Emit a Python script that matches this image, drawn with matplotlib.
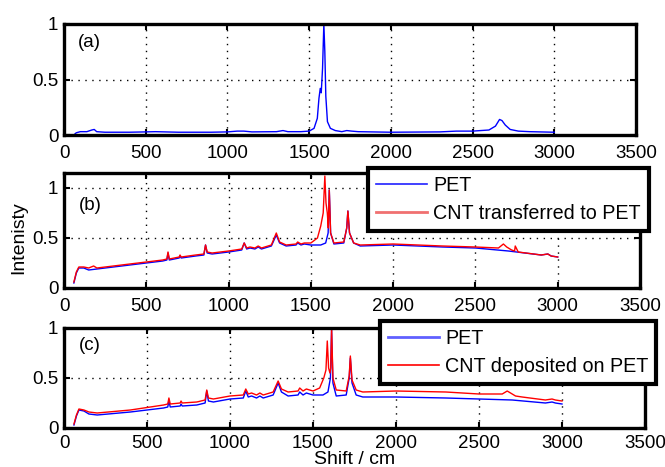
import matplotlib
matplotlib.use("Agg")
import matplotlib.pyplot as plt
from matplotlib.lines import Line2D

plt.rcParams['font.family'] = ['Liberation Sans', 'DejaVu Sans']

# ---- data ----
xa = [60, 75, 100, 140, 170, 185, 200, 250, 400, 500, 560, 700, 900, 1000, 1060, 1100, 1150,
      1300, 1340, 1370, 1450, 1500, 1530, 1550, 1560, 1568, 1574, 1582, 1590, 1596, 1602, 1612,
      1630, 1660, 1700, 1730, 1760, 1800, 2000, 2300, 2400, 2500, 2600, 2640, 2665, 2680,
      2700, 2730, 2780, 2850, 3000]
ya = [0.0, 0.02, 0.03, 0.03, 0.045, 0.05, 0.03, 0.025, 0.025, 0.028, 0.03, 0.025, 0.025, 0.028,
      0.035, 0.035, 0.028, 0.03, 0.04, 0.03, 0.03, 0.035, 0.06, 0.15, 0.33, 0.42, 0.38, 0.6,
      1.0, 0.75, 0.35, 0.12, 0.06, 0.04, 0.03, 0.04, 0.035, 0.03, 0.025, 0.028, 0.035, 0.035,
      0.045, 0.08, 0.14, 0.13, 0.09, 0.05, 0.035, 0.03, 0.025]

xb_pet = [60, 75, 90, 120, 150, 200, 400, 600, 625, 632, 640, 700, 705, 712, 800, 850, 860, 870,
          900, 1000, 1080, 1095, 1110, 1130, 1160, 1180, 1200, 1260, 1290, 1310, 1350, 1410,
          1420, 1440, 1460, 1500, 1560, 1590, 1605, 1612, 1620, 1640, 1700, 1718, 1725, 1735,
          1760, 1800, 2000, 2300, 2500, 2700, 2900, 2940, 2960, 3000]
yb_pet = [0.05, 0.15, 0.2, 0.2, 0.18, 0.19, 0.23, 0.27, 0.28, 0.35, 0.28, 0.3, 0.32, 0.3, 0.32,
          0.33, 0.43, 0.35, 0.34, 0.36, 0.38, 0.45, 0.39, 0.4, 0.39, 0.41, 0.39, 0.42, 0.53, 0.45,
          0.42, 0.43, 0.45, 0.43, 0.44, 0.43, 0.43, 0.45, 0.55, 0.98, 0.55, 0.44, 0.45, 0.6,
          0.77, 0.55, 0.45, 0.42, 0.43, 0.41, 0.4, 0.37, 0.33, 0.34, 0.32, 0.31]

xb_cnt = [60, 75, 90, 120, 150, 180, 200, 400, 600, 625, 632, 640, 700, 705, 712, 800, 850, 860,
          870, 900, 1000, 1080, 1095, 1110, 1130, 1160, 1180, 1200, 1260, 1290, 1310, 1350,
          1410, 1420, 1440, 1460, 1500, 1540, 1560, 1575, 1585, 1592, 1600, 1606, 1612, 1620,
          1640, 1700, 1718, 1725, 1735, 1760, 1800, 2000, 2300, 2500, 2640, 2670, 2690, 2720,
          2738, 2742, 2760, 2900, 2940, 2960, 3000]
yb_cnt = [0.06, 0.16, 0.21, 0.21, 0.2, 0.22, 0.2, 0.24, 0.28, 0.29, 0.36, 0.29, 0.31, 0.33, 0.31,
          0.33, 0.34, 0.43, 0.36, 0.35, 0.37, 0.39, 0.45, 0.4, 0.41, 0.4, 0.42, 0.4, 0.43, 0.55,
          0.46, 0.43, 0.44, 0.46, 0.44, 0.45, 0.45, 0.5, 0.62, 0.75, 1.12, 0.85, 0.75, 0.6, 0.98,
          0.55, 0.45, 0.46, 0.6, 0.77, 0.55, 0.45, 0.43, 0.44, 0.42, 0.41, 0.4, 0.44, 0.41, 0.38,
          0.37, 0.42, 0.36, 0.33, 0.34, 0.32, 0.31]

xc_pet = [60, 75, 90, 120, 150, 200, 400, 600, 625, 632, 640, 700, 705, 712, 800, 850, 860, 870,
          900, 1000, 1080, 1095, 1110, 1130, 1160, 1180, 1200, 1260, 1290, 1310, 1350, 1410,
          1420, 1440, 1460, 1500, 1560, 1590, 1605, 1612, 1620, 1640, 1700, 1718, 1725, 1735,
          1760, 1800, 2000, 2300, 2500, 2700, 2900, 2940, 2960, 3000]
yc_pet = [0.03, 0.12, 0.18, 0.17, 0.14, 0.13, 0.16, 0.2, 0.21, 0.27, 0.21, 0.22, 0.24, 0.22,
          0.23, 0.25, 0.37, 0.27, 0.26, 0.29, 0.3, 0.37, 0.31, 0.32, 0.3, 0.32, 0.3, 0.33, 0.45,
          0.36, 0.32, 0.33, 0.36, 0.33, 0.35, 0.33, 0.33, 0.36, 0.5, 0.98, 0.45, 0.32, 0.33,
          0.5, 0.7, 0.45, 0.33, 0.31, 0.31, 0.3, 0.29, 0.28, 0.25, 0.26, 0.25, 0.24]

xc_cnt = [60, 75, 90, 120, 150, 200, 400, 600, 625, 632, 640, 700, 705, 712, 800, 850, 860, 870,
          900, 1000, 1080, 1095, 1110, 1130, 1160, 1180, 1200, 1260, 1290, 1310, 1350, 1410,
          1420, 1440, 1460, 1500, 1540, 1565, 1578, 1586, 1594, 1602, 1607, 1612, 1620, 1640,
          1700, 1718, 1725, 1735, 1760, 1800, 2000, 2300, 2500, 2640, 2670, 2690, 2720, 2760,
          2900, 2940, 2960, 3000]
yc_cnt = [0.04, 0.13, 0.19, 0.18, 0.16, 0.15, 0.18, 0.23, 0.24, 0.3, 0.24, 0.25, 0.27, 0.25,
          0.26, 0.28, 0.38, 0.3, 0.29, 0.32, 0.33, 0.39, 0.34, 0.35, 0.33, 0.35, 0.33, 0.36,
          0.47, 0.39, 0.36, 0.37, 0.4, 0.37, 0.39, 0.37, 0.4, 0.5, 0.58, 0.87, 0.6, 0.55, 0.6,
          1.0, 0.5, 0.38, 0.37, 0.52, 0.72, 0.48, 0.38, 0.36, 0.37, 0.36, 0.34, 0.34, 0.37, 0.35,
          0.32, 0.31, 0.28, 0.29, 0.28, 0.27]

xticks = [0, 500, 1000, 1500, 2000, 2500, 3000, 3500]
yticks = [0, 0.5, 1]
legend_b = ['PET', 'CNT transferred to PET']
legend_c = ['PET', 'CNT deposited on PET']
panel_labels = ['(a)', '(b)', '(c)']

# ---- layout ----
W, H = 665, 467
fig = plt.figure(figsize=(W / 100, H / 100), dpi=100)


def add_ax(l, r, t, b):
    return fig.add_axes([l / W, 1 - b / H, (r - l) / W, (b - t) / H])


ax_a = add_ax(64, 636, 24, 135)
ax_b = add_ax(64, 640, 173, 288)
ax_c = add_ax(64, 645, 328, 428)

FS = 13.5
for ax in (ax_a, ax_b, ax_c):
    ax.set_xlim(0, 3500)
    ax.set_xticks(xticks)
    ax.set_yticks(yticks)
    ax.set_yticklabels(['0', '0.5', '1'])
    ax.grid(True, linestyle=(0, (1, 4)), color='k', linewidth=1.0)
    ax.tick_params(direction='in', length=4, width=1.5, top=True, right=True,
                   labelsize=FS)
    ax.tick_params(axis='x', pad=7)
    ax.tick_params(axis='y', pad=4)
    for s in ax.spines.values():
        s.set_linewidth(2.4)
ax_c.tick_params(axis='x', pad=5)

ax_a.set_ylim(0, 1)
ax_b.set_ylim(0, 1.15)
ax_c.set_ylim(0, 1)

ax_a.plot(xa, ya, color='#0000ff', linewidth=1.0)
ax_b.plot(xb_pet, yb_pet, color='#0000ff', linewidth=1.0)
ax_b.plot(xb_cnt, yb_cnt, color='#ff0000', linewidth=1.0)
ax_c.plot(xc_pet, yc_pet, color='#0000ff', linewidth=1.0)
ax_c.plot(xc_cnt, yc_cnt, color='#ff0000', linewidth=1.0)

for ax, lab, yy in zip((ax_a, ax_b, ax_c), panel_labels, (0.83, 0.72, 0.83)):
    ax.text(0.025, yy, lab, transform=ax.transAxes, fontsize=FS, va='center', ha='left')

ax_b.set_ylabel('Intenisty', fontsize=14)
ax_b.yaxis.set_label_coords(-0.063, 0.44)
ax_c.set_xlabel('Shift / cm', fontsize=14, labelpad=-0.5)

LFS = 14.2
hb = [Line2D([], [], color='#2020ff', lw=1.2), Line2D([], [], color='#f07070', lw=2)]
leg_b = ax_b.legend(hb, legend_b, loc='upper left', bbox_to_anchor=(368 / W, 1 - 168 / H),
                    bbox_transform=fig.transFigure, fontsize=LFS, frameon=True, fancybox=False,
                    handlelength=2.6, borderpad=0.4, labelspacing=0.45, handletextpad=0.3,
                    borderaxespad=0)
hc = [Line2D([], [], color='#6060ff', lw=2), Line2D([], [], color='#ff0000', lw=1.2)]
leg_c = ax_c.legend(hc, legend_c, loc='upper left', bbox_to_anchor=(380 / W, 1 - 321 / H),
                    bbox_transform=fig.transFigure, fontsize=LFS, frameon=True, fancybox=False,
                    handlelength=2.6, borderpad=0.4, labelspacing=0.45, handletextpad=0.3,
                    borderaxespad=0)
for leg in (leg_b, leg_c):
    fr = leg.get_frame()
    fr.set_linewidth(3.0)
    fr.set_edgecolor('k')
    fr.set_facecolor('white')
    fr.set_alpha(1)
    leg.set_zorder(10)

fig.savefig('out.png', dpi=100)
